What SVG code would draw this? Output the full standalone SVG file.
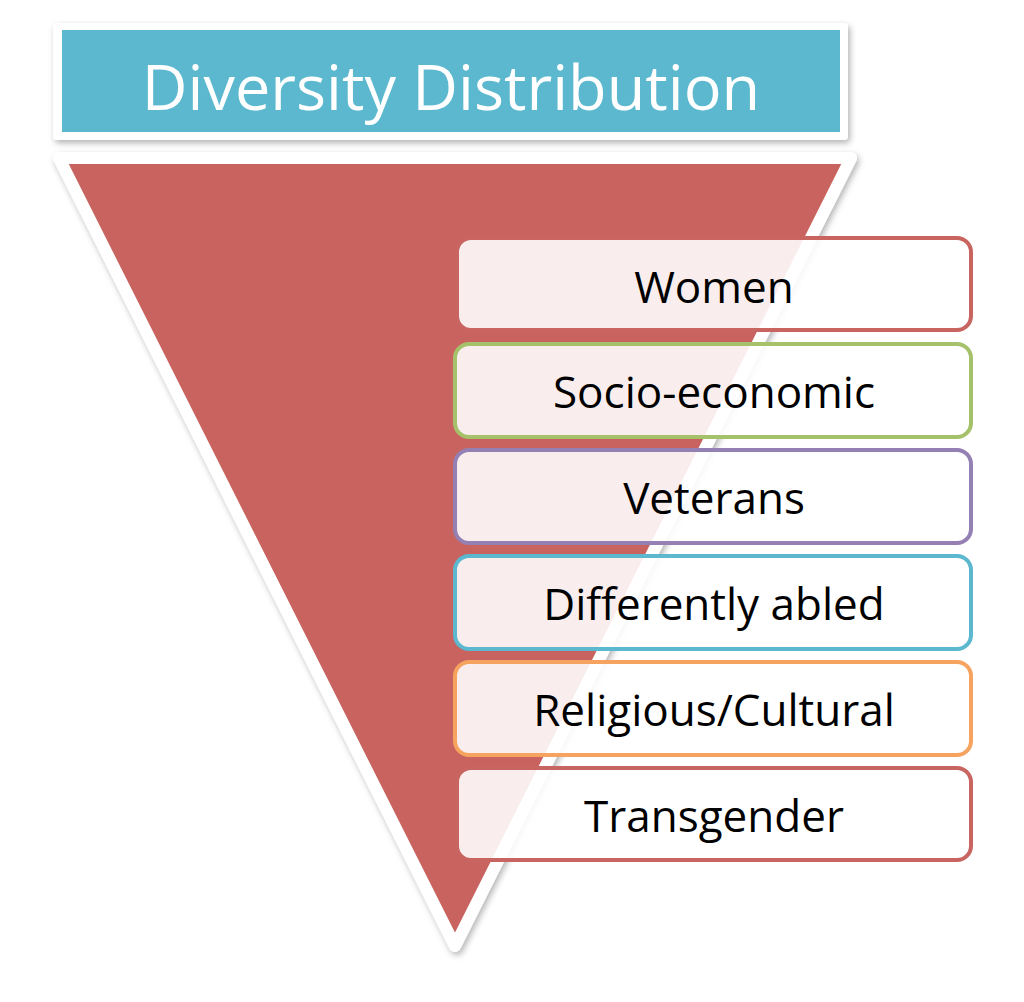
<svg xmlns="http://www.w3.org/2000/svg" width="1024" height="1002" viewBox="0 0 1024 1002">
<defs>
<filter id="sh" x="-10%" y="-10%" width="120%" height="120%">
<feDropShadow dx="2" dy="3" stdDeviation="3" flood-color="#000" flood-opacity="0.3"/>
</filter>
</defs>
<style>
.box{fill:#ffffff;fill-opacity:0.89;stroke-width:4}
.lbl{font-family:"Open Sans","Noto Sans",sans-serif;font-size:44px;fill:#000;text-anchor:middle}
</style>
<rect width="1024" height="1002" fill="#fff"/>
<g id="title">
<rect x="53" y="23" width="795" height="117" rx="4" fill="#fff" filter="url(#sh)"/>
<rect x="62" y="30" width="778" height="102" fill="#5bb8cf"/>
<text x="451" y="110" font-family="'Open Sans','Noto Sans',sans-serif" font-size="63" fill="#fff" text-anchor="middle">Diversity Distribution</text>
</g>
<g id="triangle">
<polygon points="59,158 851,158 455,946" fill="#c9645e" stroke="#fff" stroke-width="12" stroke-linejoin="round" filter="url(#sh)"/>
</g>
<g id="women">
<rect class="box" x="457" y="238" width="514" height="92" rx="14" stroke="#c96560"/>
<text class="lbl" x="714" y="303">Women</text>
</g>
<g id="socio">
<rect class="box" x="455" y="344" width="516" height="93" rx="14" stroke="#a5c26b"/>
<text class="lbl" x="714" y="408">Socio-economic</text>
</g>
<g id="veterans">
<rect class="box" x="455" y="450" width="516" height="93" rx="14" stroke="#9580b3"/>
<text class="lbl" x="714" y="514">Veterans</text>
</g>
<g id="differently">
<rect class="box" x="455" y="556" width="516" height="93" rx="14" stroke="#5bb8cf"/>
<text class="lbl" x="714" y="620">Differently abled</text>
</g>
<g id="religious">
<rect class="box" x="455" y="662" width="516" height="93" rx="14" stroke="#f5a35f"/>
<text class="lbl" x="714" y="726">Religious/Cultural</text>
</g>
<g id="transgender">
<rect class="box" x="457" y="768" width="514" height="92" rx="14" stroke="#c96560"/>
<text class="lbl" x="714" y="832">Transgender</text>
</g>
<g id="connectors"></g>
</svg>
